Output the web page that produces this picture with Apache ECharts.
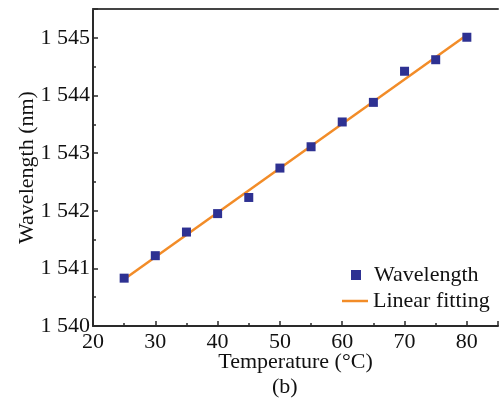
<!DOCTYPE html>
<html>
<head>
<meta charset="utf-8">
<script src="https://cdn.jsdelivr.net/npm/echarts@6/dist/echarts.min.js"></script>
<style>
  html, body { margin: 0; padding: 0; background: #fff; }
  #chart { width: 501px; height: 401px; }
</style>
</head>
<body>
<div id="chart"></div>
<script>
// Measured wavelength versus temperature
var temperatures = [25, 30, 35, 40, 45, 50, 55, 60, 65, 70, 75, 80];
var wavelengths = [1540.83, 1541.22, 1541.63, 1541.95, 1542.23, 1542.74,
                   1543.11, 1543.54, 1543.88, 1544.42, 1544.62, 1545.01];

// Linear fit, end points
var fitTemperatures = [25, 80];
var fitWavelengths = [1540.81, 1545.05];

var seriesNames = ['Wavelength', 'Linear fitting'];

var FONT = '"Liberation Serif", "Times New Roman", serif';
var AXIS_COLOR = '#2a2a2a';
var FIT_COLOR = '#F28C28';

function pairs(xs, ys) {
  return xs.map(function (x, i) { return [x, ys[i]]; });
}

// "1545" -> "1 545"
function thousands(v) {
  var s = String(Math.round(v));
  return s.replace(/^(\d+)(\d{3})$/, '$1 $2');
}

var chart = echarts.init(document.getElementById('chart'), null, { renderer: 'canvas' });

chart.setOption({
  animation: false,
  backgroundColor: '#ffffff',
  grid: { left: 93, top: 9, right: -4, bottom: 75, containLabel: false },
  xAxis: [{
    type: 'value',
    min: 20, max: 85, interval: 10,
    name: 'Temperature (°C)',
    nameLocation: 'middle',
    nameGap: 25,
    nameMoveOverlap: false,
    nameTextStyle: { fontFamily: FONT, fontSize: 22, color: '#111' },
    axisLine: { show: true, lineStyle: { color: AXIS_COLOR, width: 2 } },
    axisTick: { show: true, inside: true, length: 5, lineStyle: { color: AXIS_COLOR, width: 1.5 } },
    minorTick: { show: true, splitNumber: 2, length: 3, lineStyle: { color: AXIS_COLOR, width: 1.5 } },
    axisLabel: {
      margin: 5, fontFamily: FONT, fontSize: 22, color: '#111',
      formatter: function (v) { return v % 10 === 0 && v <= 80 ? String(v) : ''; }
    },
    splitLine: { show: false }
  }, {
    // top frame line
    type: 'value', position: 'top',
    min: 20, max: 85,
    axisLine: { show: true, onZero: false, lineStyle: { color: '#444', width: 2 } },
    axisTick: { show: false }, axisLabel: { show: false }, splitLine: { show: false }
  }],
  yAxis: {
    type: 'value',
    min: 1540, max: 1545.5, interval: 1,
    name: 'Wavelength (nm)',
    nameLocation: 'middle',
    nameGap: 55,
    nameMoveOverlap: false,
    nameTextStyle: { fontFamily: FONT, fontSize: 22, color: '#111' },
    axisLine: { show: true, lineStyle: { color: AXIS_COLOR, width: 2 } },
    axisTick: { show: true, inside: true, length: 5, lineStyle: { color: AXIS_COLOR, width: 1.5 } },
    minorTick: { show: true, splitNumber: 2, length: 3, lineStyle: { color: AXIS_COLOR, width: 1.5 } },
    axisLabel: {
      margin: 3, fontFamily: FONT, fontSize: 22, color: '#111',
      showMaxLabel: false,
      formatter: function (v) { return Number.isInteger(v) ? thousands(v) : ''; }
    },
    splitLine: { show: false }
  },
  legend: [{
    data: [seriesNames[0]],
    left: 351, top: 264, padding: 0,
    icon: 'rect', itemWidth: 10, itemHeight: 10,
    textStyle: { fontFamily: FONT, fontSize: 22, color: '#111', lineHeight: 22, padding: [0, 0, 0, 8] }
  }, {
    data: [{ name: seriesNames[1], icon: 'rect' }],
    left: 342, top: 290, padding: 0,
    itemWidth: 26, itemHeight: 2.5,
    itemStyle: { color: FIT_COLOR },
    textStyle: { fontFamily: FONT, fontSize: 22, color: '#111', lineHeight: 22 }
  }],
  series: [{
    name: seriesNames[1],
    type: 'line',
    data: pairs(fitTemperatures, fitWavelengths),
    symbol: 'none',
    showSymbol: false,
    lineStyle: { color: FIT_COLOR, width: 2.5 },
    itemStyle: { color: FIT_COLOR },
    z: 2
  }, {
    name: seriesNames[0],
    type: 'scatter',
    data: pairs(temperatures, wavelengths),
    symbol: 'rect',
    symbolSize: 9,
    itemStyle: { color: '#2E3192', opacity: 1 },
    z: 3
  }],
  graphic: [{
    type: 'text',
    left: 272, top: 376,
    style: { text: '(b)', font: '22px ' + FONT, fill: '#111' }
  }]
});
</script>
</body>
</html>
